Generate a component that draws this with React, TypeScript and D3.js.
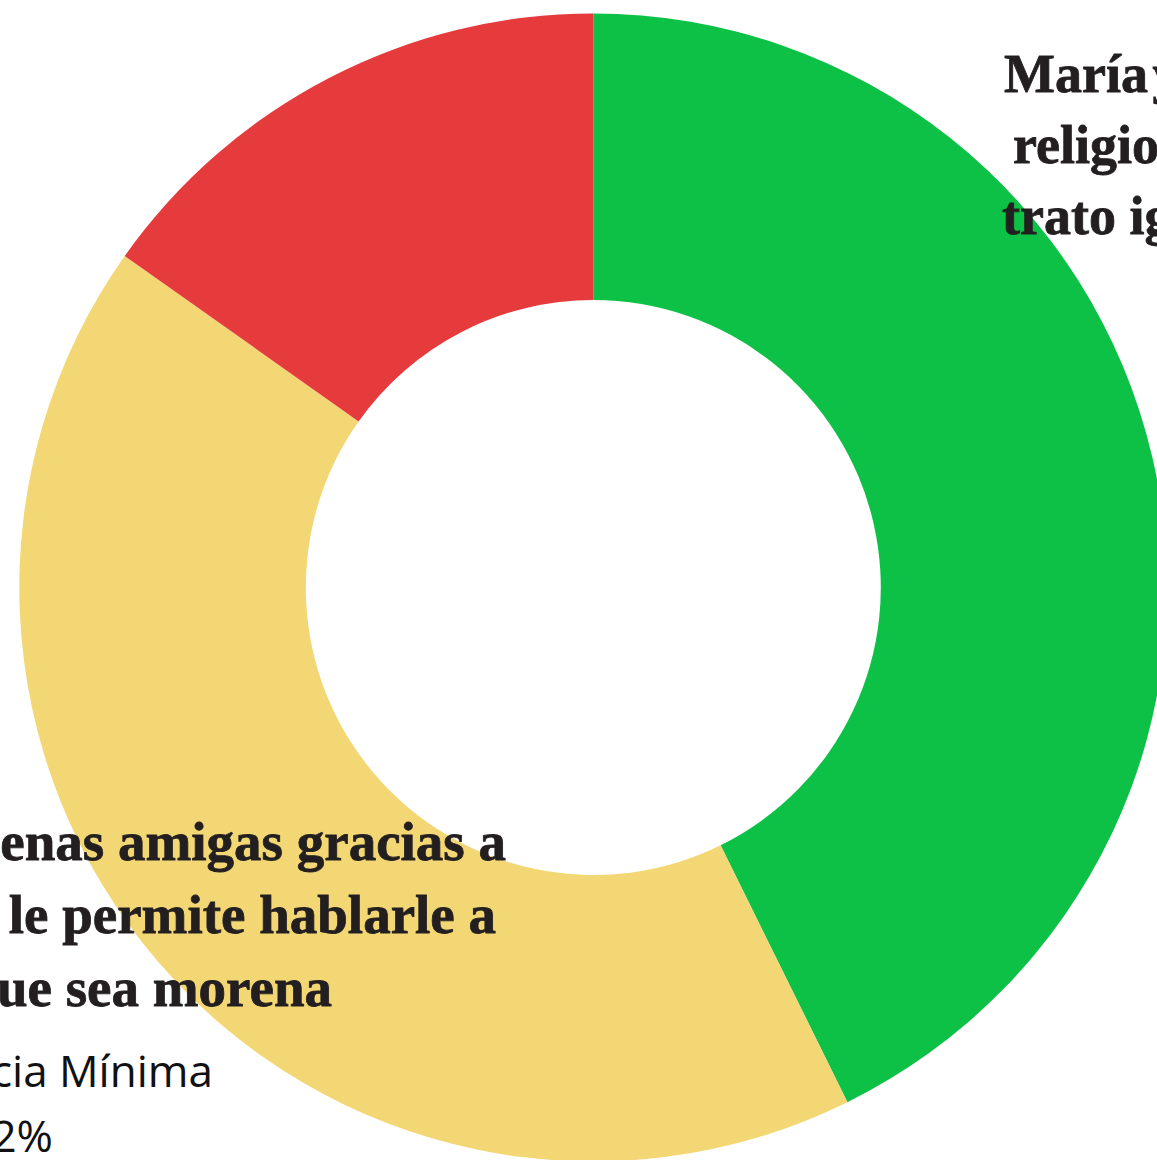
import React from "react";
import * as d3 from "d3";

// Data (share of the ring, in %)
const categories = ["Importancia Máxima", "Importancia Mínima", "Importancia Baja"];
const values = [42.7, 42.1, 15.2];
const colors = ["#0DC146", "#F2D774", "#E63B3D"];

// Label texts
const greenTitle = ["María y José son", "religiosos y dan un", "trato igualitario"];
const yellowTitle = [
  "Tiene buenas amigas gracias a",
  "que su mamá le permite hablarle a",
  "cualquiera aunque sea morena",
];
const yellowCategory = "Importancia Mínima";
const yellowPercent = "42%";
const redTitleLast = "su amiga y apoyo";

const W = 1157;
const H = 1160;
const cx = 593.3;
const cy = 587.5;
const outerR = 574;
const innerR = 287.5;

const serif = "'Liberation Serif', 'Times New Roman', serif";
const sans = "'Open Sans', 'Noto Sans', sans-serif";

export default function App() {
  const data = categories.map((c, i) => ({ c, v: values[i], color: colors[i] }));
  const pie = d3
    .pie<any>()
    .sort(null)
    .value((d: any) => d.v)
    .startAngle(0)
    .endAngle(2 * Math.PI);
  const arc = d3.arc<any>().innerRadius(innerR).outerRadius(outerR);
  const arcs = pie(data);

  return (
    <svg
      width={W}
      height={H}
      viewBox={`0 0 ${W} ${H}`}
      style={{ position: "absolute", left: 0, top: 0, background: "#fff" }}
    >
      <g transform={`translate(${cx},${cy})`}>
        {arcs.map((a, i) => (
          <path key={i} d={arc(a) as string} fill={a.data.color} />
        ))}
      </g>

      {/* red slice label (only descenders visible) */}
      <text x={275} y={-9.5} textAnchor="middle" fontFamily={serif} fontWeight="bold" fontSize={54} fill="#231F20" transform="translate(0,-6)">
        {redTitleLast}
      </text>

      {/* green slice label */}
      <g fontFamily={serif} fontWeight="bold" fontSize={54} fill="#231F20" stroke="#231F20" strokeWidth={0.8}>
        <text x={1004} y={92} wordSpacing={-9}>{greenTitle[0]}</text>
        <text x={1013} y={163}>{greenTitle[1]}</text>
        <text x={1002} y={234}>{greenTitle[2]}</text>
      </g>

      {/* yellow slice label */}
      <g fontFamily={serif} fontWeight="bold" fontSize={55} fill="#231F20" stroke="#231F20" strokeWidth={0.8} textAnchor="end">
        <text x={506} y={860}>{yellowTitle[0]}</text>
        <text x={496} y={933}>{yellowTitle[1]}</text>
        <text x={332} y={1006}>{yellowTitle[2]}</text>
      </g>
      <g fontFamily={sans} fontSize={44} fill="#111" textAnchor="end">
        <text x={213} y={1087}>{yellowCategory}</text>
        <text x={53} y={1152}>{yellowPercent}</text>
      </g>
    </svg>
  );
}
